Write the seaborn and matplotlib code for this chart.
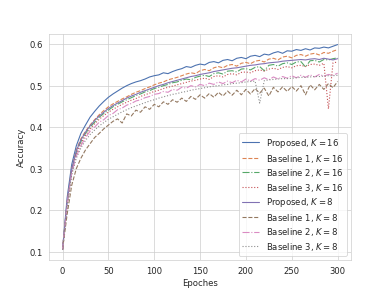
import matplotlib
matplotlib.use('Agg')
import matplotlib.pyplot as plt
import seaborn as sns

# epochs sampled every 5
epochs = list(range(0, 301, 5))

proposed_k16 = [0.105, 0.23, 0.31, 0.355, 0.385, 0.405, 0.424, 0.438, 0.451, 0.462,
                0.472, 0.480, 0.487, 0.494, 0.500, 0.505, 0.509, 0.512, 0.516, 0.521,
                0.524, 0.526, 0.531, 0.529, 0.534, 0.538, 0.541, 0.546, 0.544, 0.549,
                0.552, 0.550, 0.556, 0.558, 0.555, 0.561, 0.563, 0.560, 0.566, 0.568,
                0.565, 0.571, 0.573, 0.570, 0.576, 0.574, 0.579, 0.582, 0.578, 0.584,
                0.583, 0.587, 0.585, 0.589, 0.586, 0.591, 0.590, 0.593, 0.591, 0.595,
                0.599]
baseline1_k16 = [0.105, 0.22, 0.30, 0.345, 0.372, 0.39, 0.405, 0.418, 0.43, 0.44,
                 0.449, 0.456, 0.462, 0.468, 0.473, 0.479, 0.484, 0.488, 0.493, 0.497,
                 0.502, 0.506, 0.509, 0.514, 0.517, 0.52, 0.524, 0.528, 0.531, 0.529,
                 0.536, 0.539, 0.536, 0.543, 0.546, 0.543, 0.549, 0.551, 0.547, 0.554,
                 0.556, 0.553, 0.559, 0.561, 0.557, 0.564, 0.566, 0.562, 0.569, 0.571,
                 0.567, 0.573, 0.575, 0.571, 0.576, 0.578, 0.574, 0.58, 0.578, 0.583,
                 0.587]
baseline2_k16 = [0.105, 0.215, 0.295, 0.34, 0.365, 0.385, 0.40, 0.412, 0.424, 0.433,
                 0.441, 0.449, 0.455, 0.461, 0.466, 0.471, 0.476, 0.48, 0.485, 0.488,
                 0.493, 0.496, 0.50, 0.503, 0.507, 0.509, 0.513, 0.516, 0.514, 0.52,
                 0.523, 0.525, 0.522, 0.529, 0.531, 0.528, 0.535, 0.536, 0.533, 0.54,
                 0.541, 0.538, 0.544, 0.546, 0.536, 0.549, 0.551, 0.547, 0.553, 0.555,
                 0.551, 0.557, 0.558, 0.545, 0.56, 0.561, 0.557, 0.563, 0.562, 0.565,
                 0.567]
baseline3_k16 = [0.105, 0.21, 0.29, 0.335, 0.36, 0.38, 0.395, 0.408, 0.419, 0.428,
                 0.436, 0.443, 0.449, 0.455, 0.46, 0.465, 0.469, 0.474, 0.478, 0.482,
                 0.486, 0.489, 0.493, 0.496, 0.499, 0.502, 0.505, 0.508, 0.511, 0.513,
                 0.516, 0.518, 0.515, 0.522, 0.524, 0.521, 0.527, 0.529, 0.526, 0.532,
                 0.533, 0.531, 0.536, 0.538, 0.535, 0.54, 0.542, 0.539, 0.544, 0.546,
                 0.543, 0.548, 0.549, 0.546, 0.551, 0.552, 0.549, 0.554, 0.444, 0.555,
                 0.557]
proposed_k8 = [0.105, 0.22, 0.298, 0.343, 0.369, 0.388, 0.403, 0.416, 0.427, 0.436,
               0.445, 0.452, 0.458, 0.464, 0.47, 0.475, 0.479, 0.484, 0.488, 0.492,
               0.496, 0.50, 0.503, 0.507, 0.51, 0.513, 0.516, 0.519, 0.522, 0.524,
               0.527, 0.529, 0.531, 0.534, 0.536, 0.538, 0.54, 0.542, 0.543, 0.545,
               0.547, 0.549, 0.55, 0.552, 0.553, 0.555, 0.556, 0.557, 0.559, 0.56,
               0.561, 0.562, 0.563, 0.562, 0.564, 0.565, 0.563, 0.566, 0.564, 0.562,
               0.565]
baseline1_k8 = [0.105, 0.19, 0.26, 0.30, 0.325, 0.345, 0.36, 0.375, 0.385, 0.396,
                0.405, 0.414, 0.42, 0.41, 0.432, 0.427, 0.441, 0.436, 0.449, 0.443,
                0.455, 0.449, 0.461, 0.455, 0.466, 0.46, 0.47, 0.462, 0.474, 0.467,
                0.478, 0.47, 0.481, 0.472, 0.484, 0.475, 0.487, 0.477, 0.489, 0.478,
                0.491, 0.48, 0.493, 0.482, 0.494, 0.475, 0.496, 0.485, 0.497, 0.486,
                0.498, 0.487, 0.50, 0.478, 0.502, 0.49, 0.503, 0.491, 0.505, 0.495,
                0.51]
baseline2_k8 = [0.105, 0.215, 0.29, 0.33, 0.355, 0.375, 0.39, 0.40, 0.412, 0.418,
                0.428, 0.433, 0.442, 0.446, 0.453, 0.457, 0.463, 0.466, 0.471, 0.474,
                0.479, 0.481, 0.486, 0.484, 0.491, 0.489, 0.496, 0.494, 0.50, 0.497,
                0.503, 0.50, 0.506, 0.503, 0.509, 0.505, 0.511, 0.507, 0.513, 0.509,
                0.516, 0.511, 0.517, 0.513, 0.519, 0.514, 0.521, 0.516, 0.522, 0.518,
                0.524, 0.519, 0.525, 0.52, 0.526, 0.521, 0.527, 0.523, 0.527, 0.525,
                0.53]
baseline3_k8 = [0.105, 0.21, 0.285, 0.325, 0.35, 0.368, 0.382, 0.393, 0.403, 0.411,
                0.419, 0.425, 0.431, 0.437, 0.442, 0.447, 0.451, 0.455, 0.459, 0.463,
                0.466, 0.47, 0.473, 0.476, 0.479, 0.481, 0.484, 0.486, 0.489, 0.491,
                0.493, 0.495, 0.497, 0.499, 0.50, 0.502, 0.503, 0.505, 0.506, 0.507,
                0.509, 0.51, 0.511, 0.458, 0.512, 0.514, 0.515, 0.516, 0.517, 0.517,
                0.518, 0.519, 0.52, 0.52, 0.521, 0.522, 0.522, 0.523, 0.524, 0.524,
                0.525]

series = [
    (r'Proposed, $K=16$', proposed_k16),
    (r'Baseline 1, $K=16$', baseline1_k16),
    (r'Baseline 2, $K=16$', baseline2_k16),
    (r'Baseline 3, $K=16$', baseline3_k16),
    (r'Proposed, $K=8$', proposed_k8),
    (r'Baseline 1, $K=8$', baseline1_k8),
    (r'Baseline 2, $K=8$', baseline2_k8),
    (r'Baseline 3, $K=8$', baseline3_k8),
]
styles = ['-', '--', '-.', ':']

sns.set_style('whitegrid')
plt.rcParams['font.family'] = ['DejaVu Sans']
palette = sns.color_palette('deep', 8)

fig, ax = plt.subplots(figsize=(6.4, 4.8), dpi=61)
for i, (name, vals) in enumerate(series):
    sns.lineplot(x=epochs, y=vals, ax=ax, label=name, color=palette[i],
                 linestyle=styles[i % 4], linewidth=1.3)

ax.set_xlabel('Epoches')
ax.set_ylabel('Accuracy')
ax.set_xticks([0, 50, 100, 150, 200, 250, 300])
ax.legend(loc='lower right', labelspacing=0.3)

fig.savefig('out.png')
